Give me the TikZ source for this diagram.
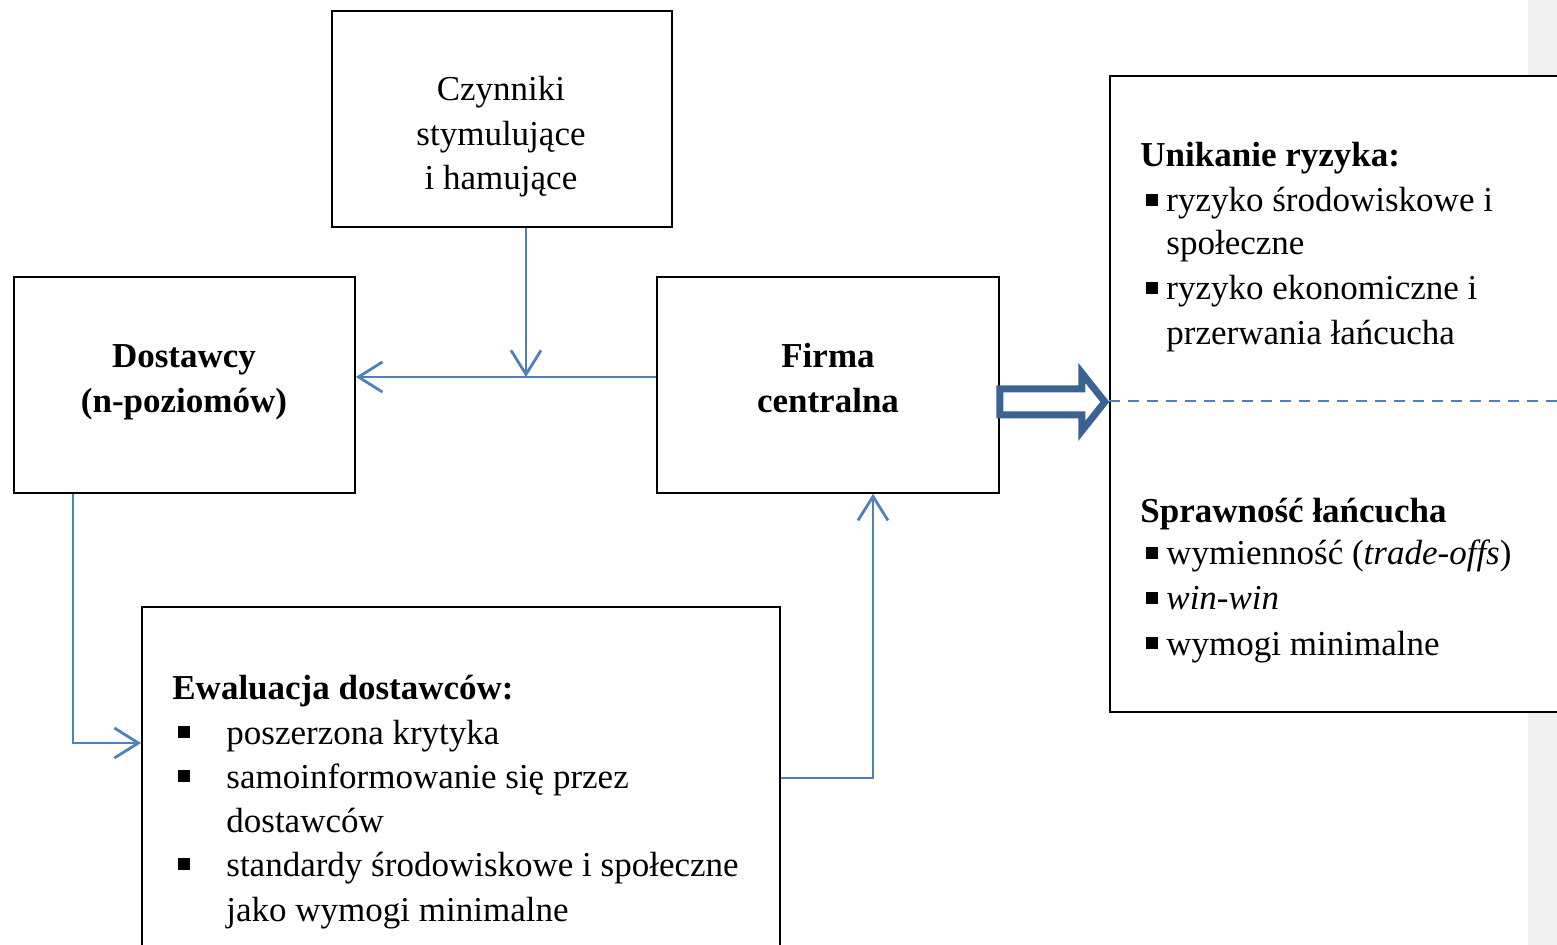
\documentclass[tikz,border=0pt]{standalone}
\usepackage{fontspec}
\setmainfont{Liberation Serif}
\usetikzlibrary{arrows.meta,calc}
\definecolor{conblue}{HTML}{4F81BD}
\definecolor{arrblue}{HTML}{3B6392}
\definecolor{stripgray}{HTML}{F0F0F0}
\newcommand{\sqbul}[1]{\llap{\rule[3pt]{6pt}{6pt}\hspace{#1}}}
\begin{document}
\begin{tikzpicture}[x=0.5pt,y=-0.5pt,
  box/.style={draw=black, line width=0.9pt, fill=white, inner sep=0pt, anchor=north west, rectangle},
  txt/.style={inner sep=0pt, font=\fontsize{17.5}{22}\selectfont},
  ctxt/.style={txt, anchor=base},
  ltxt/.style={txt, anchor=base west},
  conn/.style={draw=conblue, line width=1.4pt},
  tip/.style={-{Straight Barb[length=12pt,width=15pt,line width=1.4pt]}}
]
\clip (0,0) rectangle (1557,945);
\fill[white] (0,0) rectangle (1557,945);
\fill[stripgray] (1528,0) rectangle (1557,945);

% boxes
\node[box, minimum width=170pt, minimum height=108pt] (czy) at (331,10) {};
\node[box, minimum width=170.5pt, minimum height=108pt] (dost) at (13,276) {};
\node[box, minimum width=171pt, minimum height=108pt] (firma) at (656,276) {};
\node[box, minimum width=260pt, minimum height=318pt] (rbox) at (1109,75) {};
\node[box, minimum width=319pt, minimum height=200pt] (ewal) at (141,606) {};

% box texts
\node[ctxt] (czy1) at (501,101) {Czynniki};
\node[ctxt] (czy2) at (501,146) {stymulujące};
\node[ctxt] (czy3) at (501,190) {i hamujące};

\node[ctxt] (dost1) at (184,368) {\textbf{Dostawcy}};
\node[ctxt] (dost2) at (184,413) {\textbf{(n-poziomów)}};

\node[ctxt] (firma1) at (828,368) {\textbf{Firma}};
\node[ctxt] (firma2) at (828,413) {\textbf{centralna}};

\node[ltxt] (r1) at (1140,167) {\textbf{Unikanie ryzyka:}};
\node[ltxt] (r2) at (1166,212) {\sqbul{4pt}ryzyko środowiskowe i};
\node[ltxt] (r3) at (1166,255) {społeczne};
\node[ltxt] (r4) at (1166,300) {\sqbul{4pt}ryzyko ekonomiczne i};
\node[ltxt] (r5) at (1166,345) {przerwania łańcucha};
\node[ltxt] (r6) at (1140,523) {\textbf{Sprawność łańcucha}};
\node[ltxt] (r7) at (1166,565) {\sqbul{4pt}wymienność (\textit{trade-offs})};
\node[ltxt] (r8) at (1166,610) {\sqbul{4pt}\textit{win-win}};
\node[ltxt] (r9) at (1166,655) {\sqbul{4pt}wymogi minimalne};

\node[ltxt] (e1) at (172,699) {\textbf{Ewaluacja dostawców:}};
\node[ltxt] (e2) at (226,744) {\sqbul{18pt}poszerzona krytyka};
\node[ltxt] (e3) at (226,788) {\sqbul{18pt}samoinformowanie się przez};
\node[ltxt] (e4) at (226,832) {dostawców};
\node[ltxt] (e5) at (226,876) {\sqbul{18pt}standardy środowiskowe i społeczne};
\node[ltxt] (e6) at (226,921) {jako wymogi minimalne};

% connectors
\coordinate (junction) at (526,377);
\draw[conn, tip] (firma.west |- junction) -- (dost.east |- junction);
\draw[conn, tip] (czy.south -| junction) -- (junction);
\draw[conn, tip] ($(dost.south west)+(60,0)$) |- ($(ewal.north west)+(0,137)$);
\draw[conn, tip] ($(ewal.north east)+(0,172)$) -| ($(firma.south west)+(217,0)$);

% block arrow
\draw[arrblue, line width=3.5pt, fill=white, line join=miter]
  ($(firma.east)+(0,4)$) -- ++(82,0) -- ++(0,-16) -- ++(23,29) -- ++(-23,29) -- ++(0,-16) -- ++(-82,0) -- cycle;

% dashed divider
\coordinate (dashend) at (1557,401);
\draw[conblue, line width=1pt, dash pattern=on 5.5pt off 4pt] (rbox.west |- dashend) -- (dashend);
\end{tikzpicture}
\end{document}
